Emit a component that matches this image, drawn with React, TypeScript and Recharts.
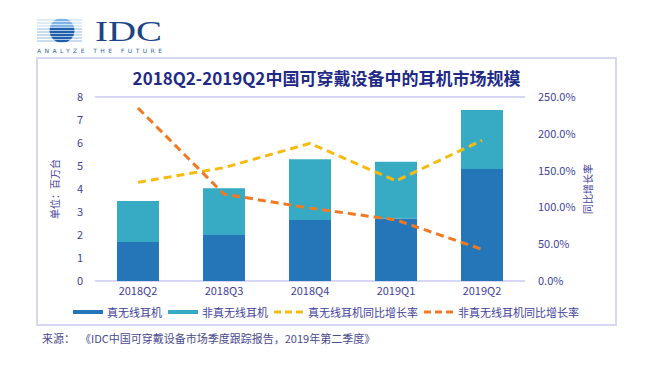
import { ComposedChart, Bar, Line, XAxis, YAxis, CartesianGrid, Legend } from "recharts";

const quarters = ["2018Q2", "2018Q3", "2018Q4", "2019Q1", "2019Q2"];
// 单位：百万台
const twsUnits = [1.7, 2.0, 2.65, 2.72, 4.87];
const nonTwsUnits = [1.78, 2.03, 2.64, 2.47, 2.56];
// 同比增长率 (%)
const twsGrowth = [134, 154, 187, 136, 191];
const nonTwsGrowth = [235, 118, 99, 83, 43];

const seriesNames = ["真无线耳机", "非真无线耳机", "真无线耳机同比增长率", "非真无线耳机同比增长率"];
const leftTicks = [0, 1, 2, 3, 4, 5, 6, 7, 8];
const rightTicks = [0, 50, 100, 150, 200, 250];

const data = quarters.map((q, i) => ({
  q,
  tws: twsUnits[i],
  nonTws: nonTwsUnits[i],
  twsG: twsGrowth[i],
  nonTwsG: nonTwsGrowth[i],
}));

const FONT = '"Noto Sans CJK SC", "Noto Sans", sans-serif';
const AXIS_TEXT = "#3f3f9c";
const DARK = "#2575b9";
const TEAL = "#38abc4";
const YELLOW = "#f6bb10";
const ORANGE = "#ef7a23";

function LegendRow({ payload }: any) {
  const items = [...(payload || [])].sort((a: any, b: any) => seriesNames.indexOf(a.value) - seriesNames.indexOf(b.value));
  return (
    <div style={{ display: "flex", alignItems: "center", height: 18, marginLeft: 37, fontFamily: FONT, fontSize: 11, color: AXIS_TEXT }}>
      {items.map((p: any) => {
        const dashed = p.type === "line";
        return (
          <div key={p.value} style={{ display: "flex", alignItems: "center", marginRight: 6 }}>
            <svg width={30} height={6} style={{ marginRight: 4 }}>
              {dashed ? (
                <line x1={0} y1={3} x2={30} y2={3} stroke={p.color} strokeWidth={3} strokeDasharray="7 4" />
              ) : (
                <rect x={0} y={1} width={30} height={4} fill={p.color} />
              )}
            </svg>
            <span>{p.value}</span>
          </div>
        );
      })}
    </div>
  );
}

function Logo() {
  const stripes = [20, 23, 26, 29, 32, 35, 38, 41];
  return (
    <svg width={170} height={56} style={{ position: "absolute", left: 0, top: 0 }}>
      <defs>
        <clipPath id="ball">
          <circle cx={62} cy={30.5} r={12.5} />
        </clipPath>
      </defs>
      {stripes.map((y, i) => (
        <line key={i} x1={37} y1={y} x2={82} y2={y} stroke={i < 3 ? "#9cc3e6" : "#4f8fcf"} strokeWidth={1} opacity={0.6} />
      ))}
      <g clipPath="url(#ball)">
        {stripes.map((y, i) => (
          <rect key={i} x={45} y={y - 1.2} width={35} height={2.4} fill={i < 3 ? "#7fb3e3" : "#1f5fae"} />
        ))}
      </g>
      <text x={95} y={41} fontFamily='"Liberation Serif", "DejaVu Serif", serif' fontSize={29} textLength={67} lengthAdjust="spacingAndGlyphs" fill="#1c4586">IDC</text>
      <text x={37} y={53} fontFamily='"DejaVu Sans", sans-serif' fontSize={6} textLength={125} fill="#2b5fa5">ANALYZE THE FUTURE</text>
    </svg>
  );
}

export default function App() {
  return (
    <div style={{ position: "absolute", left: 0, top: 0, width: 654, height: 365, background: "#fff", fontFamily: FONT }}>
      <Logo />
      <div style={{ position: "absolute", left: 36, top: 57, width: 577, height: 265, border: "2px solid #d7d7f3" }} />
      <div style={{ position: "absolute", left: 36, top: 65, width: 581, textAlign: "center", fontSize: 17, fontWeight: 700, color: "#1f2b86" }}>
        2018Q2-2019Q2中国可穿戴设备中的耳机市场规模
      </div>
      <div style={{ position: "absolute", left: 36, top: 58 }}>
        <ComposedChart width={579} height={266} data={data} margin={{ top: 39, right: 0, bottom: 3, left: 0 }} style={{ fontFamily: FONT }}>
          <CartesianGrid vertical={false} stroke="#cacaf2" strokeWidth={1.5} />
          <XAxis dataKey="q" axisLine={false} tickLine={false} height={22} tick={{ fill: AXIS_TEXT, fontSize: 11 }} tickMargin={0} />
          <YAxis
            yAxisId="left"
            domain={[0, 8]}
            ticks={leftTicks}
            width={59}
            axisLine={false}
            tickLine={false}
            tickMargin={6}
            tick={{ fill: AXIS_TEXT, fontSize: 11 }}
            label={{ value: "单位：百万台", angle: -90, position: "center", dx: -10, fill: AXIS_TEXT, fontSize: 10 }}
          />
          <YAxis
            yAxisId="right"
            orientation="right"
            domain={[0, 250]}
            ticks={rightTicks}
            width={90}
            axisLine={false}
            tickLine={false}
            tickMargin={7}
            tickFormatter={(v: number) => `${v.toFixed(1)}%`}
            tick={{ fill: AXIS_TEXT, fontSize: 11 }}
            label={{ value: "同比增长率", angle: -90, position: "center", dx: 18, fill: AXIS_TEXT, fontSize: 10 }}
          />
          <Legend verticalAlign="bottom" content={<LegendRow />} wrapperStyle={{ height: 18 }} />
          <Bar yAxisId="left" dataKey="tws" name={seriesNames[0]} stackId="s" fill={DARK} barSize={42} isAnimationActive={false} legendType="rect" />
          <Bar yAxisId="left" dataKey="nonTws" name={seriesNames[1]} stackId="s" fill={TEAL} barSize={42} isAnimationActive={false} legendType="rect" />
          <Line yAxisId="right" dataKey="twsG" name={seriesNames[2]} stroke={YELLOW} strokeWidth={3} strokeDasharray="8 5" dot={false} isAnimationActive={false} legendType="line" />
          <Line yAxisId="right" dataKey="nonTwsG" name={seriesNames[3]} stroke={ORANGE} strokeWidth={3} strokeDasharray="8 5" dot={false} isAnimationActive={false} legendType="line" />
        </ComposedChart>
      </div>
      <div style={{ position: "absolute", left: 42, top: 330, fontSize: 11, color: "#4a4a8e", whiteSpace: "pre" }}>
        {"来源：  《IDC中国可穿戴设备市场季度跟踪报告，2019年第二季度》"}
      </div>
    </div>
  );
}
